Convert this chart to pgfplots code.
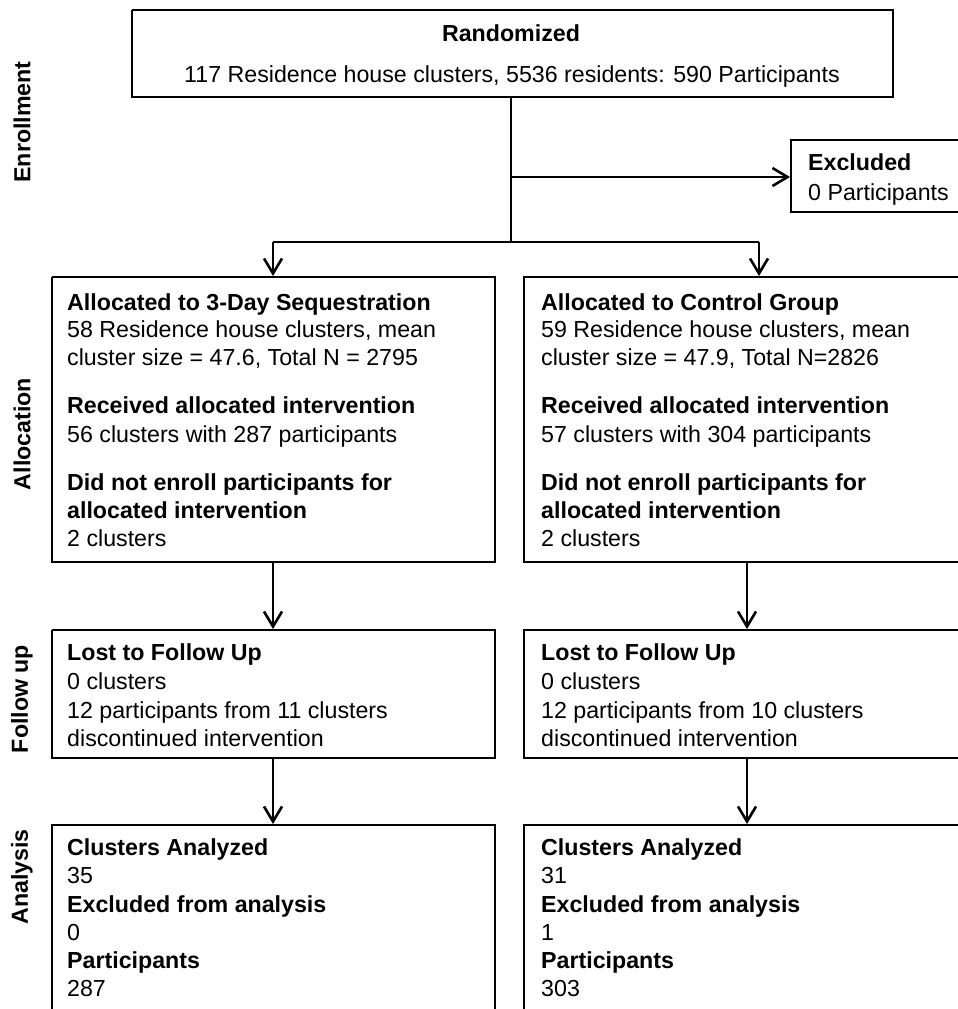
\documentclass[border=0pt]{standalone}
\usepackage{pgfplots}
\pgfplotsset{compat=1.18}
\usepackage{fontspec}
\setmainfont{Liberation Sans}
\usetikzlibrary{arrows.meta}
\newcommand{\T}[3]{\node[anchor=base west, inner sep=0pt] at (axis cs:#1,#2) {#3};}
\newcommand{\B}[3]{\node[anchor=base west, inner sep=0pt] at (axis cs:#1,#2) {\bfseries #3};}
\begin{document}
\begin{tikzpicture}
\useasboundingbox (0,0) rectangle (958pt,1009pt);
\begin{axis}[
  width=958pt, height=1009pt, scale only axis,
  xmin=0, xmax=958, ymin=0, ymax=1009, y dir=reverse,
  hide axis, clip=true,
  font=\fontsize{23.2}{27}\selectfont,
  ln/.style={black, solid, line width=2.6pt, mark=none},
  ar/.style={black, solid, line width=2.6pt, mark=none, -{Straight Barb[length=15pt,width=18pt,line width=2.6pt]}},
]
% boxes
\addplot[ln] coordinates {(132,10) (893,10) (893,97) (132,97) (132,10)};
\addplot[ln] coordinates {(975,140) (791,140) (791,212) (975,212)};
\addplot[ln] coordinates {(52,277) (495,277) (495,562) (52,562) (52,277)};
\addplot[ln] coordinates {(975,277) (524,277) (524,562) (975,562)};
\addplot[ln] coordinates {(52,630) (495,630) (495,758) (52,758) (52,630)};
\addplot[ln] coordinates {(975,630) (524,630) (524,758) (975,758)};
\addplot[ln] coordinates {(52,1030) (52,825) (495,825) (495,1030)};
\addplot[ln] coordinates {(975,825) (524,825) (524,1030)};
% connectors
\addplot[ln] coordinates {(511,97) (511,242)};
\addplot[ln] coordinates {(273,242) (759,242)};
\addplot[ar] coordinates {(511,177) (790,177)};
\addplot[ar] coordinates {(273,242) (273,276)};
\addplot[ar] coordinates {(759,242) (759,276)};
\addplot[ar] coordinates {(273,562) (273,629)};
\addplot[ar] coordinates {(747,562) (747,629)};
\addplot[ar] coordinates {(273,758) (273,824)};
\addplot[ar] coordinates {(747,758) (747,824)};
% top texts
\node[anchor=base, inner sep=0pt] at (axis cs:511,41) {\bfseries Randomized};
\node[anchor=base, inner sep=0pt] at (axis cs:512,82) {117 Residence house clusters, 5536 residents: 590 Participants};
\B{808}{170}{Excluded}
\T{808}{200}{0 Participants}
% stage labels
\node[rotate=90, inner sep=0pt] at (axis cs:22,122) {\bfseries Enrollment};
\node[rotate=90, inner sep=0pt] at (axis cs:22,434) {\bfseries Allocation};
\node[rotate=90, inner sep=0pt] at (axis cs:22,699) {\bfseries Follow up};
\node[rotate=90, inner sep=0pt] at (axis cs:22,877) {\bfseries Analysis};
% allocation left
\B{67}{310}{Allocated to 3-Day Sequestration}
\T{67}{337}{58 Residence house clusters, mean}
\T{67}{365}{cluster size = 47.6, Total N = 2795}
\B{67}{413}{Received allocated intervention}
\T{67}{442}{56 clusters with 287 participants}
\B{67}{490}{Did not enroll participants for}
\B{67}{518}{allocated intervention}
\T{67}{546}{2 clusters}
% allocation right
\B{541}{310}{Allocated to Control Group}
\T{541}{337}{59 Residence house clusters, mean}
\T{541}{365}{cluster size = 47.9, Total N=2826}
\B{541}{413}{Received allocated intervention}
\T{541}{442}{57 clusters with 304 participants}
\B{541}{490}{Did not enroll participants for}
\B{541}{518}{allocated intervention}
\T{541}{546}{2 clusters}
% follow up
\B{67}{660}{Lost to Follow Up}
\T{67}{689}{0 clusters}
\T{67}{718}{12 participants from 11 clusters}
\T{67}{746}{discontinued intervention}
\B{541}{660}{Lost to Follow Up}
\T{541}{689}{0 clusters}
\T{541}{718}{12 participants from 10 clusters}
\T{541}{746}{discontinued intervention}
% analysis
\B{67}{855}{Clusters Analyzed}
\T{67}{883}{35}
\B{67}{912}{Excluded from analysis}
\T{67}{940}{0}
\B{67}{968}{Participants}
\T{67}{996}{287}
\B{541}{855}{Clusters Analyzed}
\T{541}{883}{31}
\B{541}{912}{Excluded from analysis}
\T{541}{940}{1}
\B{541}{968}{Participants}
\T{541}{996}{303}
\end{axis}
\end{tikzpicture}
\end{document}
